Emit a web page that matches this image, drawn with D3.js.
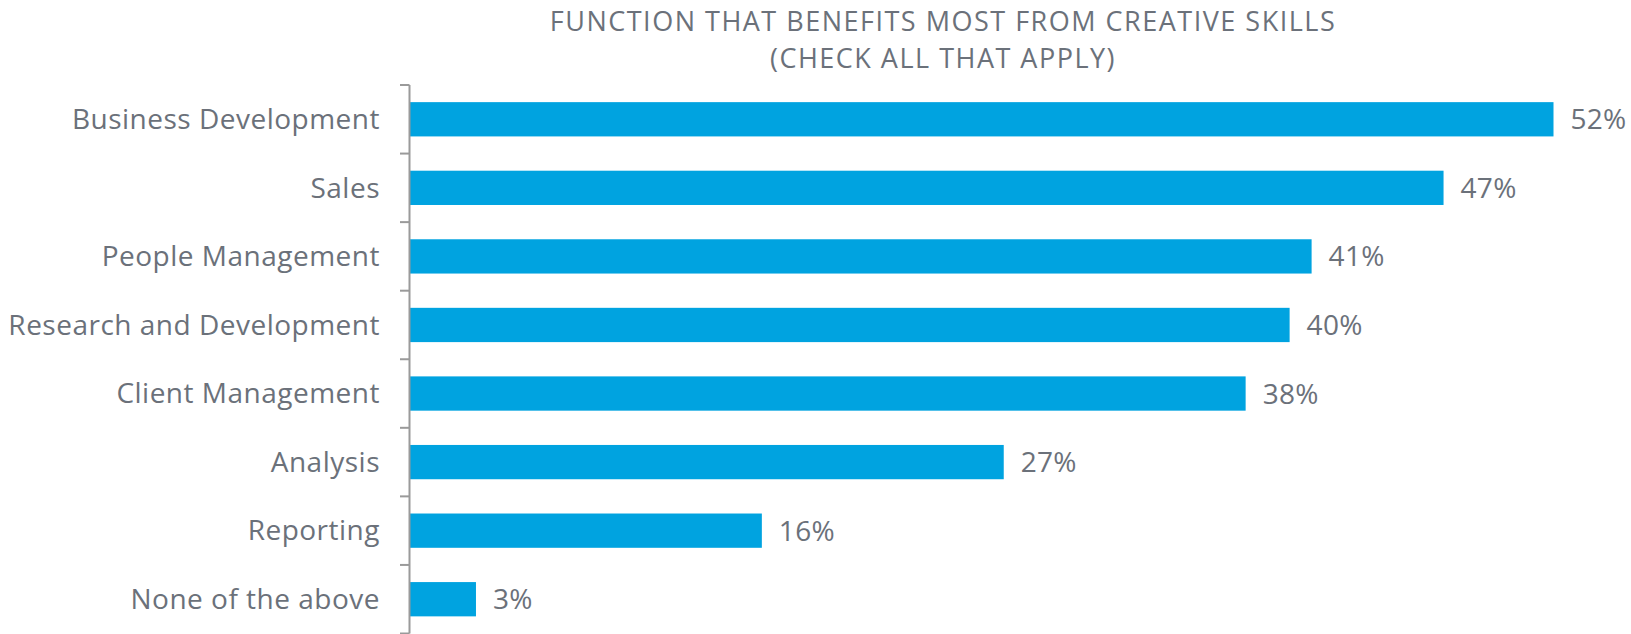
<!DOCTYPE html>
<html>
<head>
<meta charset="utf-8">
<script src="https://cdn.jsdelivr.net/npm/d3@7"></script>
<style>
  html, body { margin: 0; padding: 0; background: #ffffff; }
  svg { display: block; }
  text { font-family: "Open Sans", "Noto Sans", sans-serif; fill: #6b717a; }
</style>
</head>
<body>
<svg id="chart" width="1631" height="634"></svg>
<script>
// Survey results: share of respondents choosing each function
const categories = [
  "Business Development",
  "Sales",
  "People Management",
  "Research and Development",
  "Client Management",
  "Analysis",
  "Reporting",
  "None of the above"
];
const values = [0.52, 0.47, 0.41, 0.40, 0.38, 0.27, 0.16, 0.03];
const titleLines = [
  "FUNCTION THAT BENEFITS MOST FROM CREATIVE SKILLS",
  "(CHECK ALL THAT APPLY)"
];

const svg = d3.select("#chart");
const margin = { top: 85, left: 410 };
const plotHeight = 548.5;

const x = d3.scaleLinear().domain([0, 0.52]).range([0, 1143.5]);
const y = d3.scaleBand()
  .domain(categories)
  .range([0, plotHeight])
  .paddingInner(0.5)
  .paddingOuter(0.25);

// Title (two lines)
svg.append("g")
  .selectAll("text")
  .data(titleLines)
  .join("text")
  .attr("x", 943)
  .attr("y", (d, i) => 31 + i * 37)
  .attr("text-anchor", "middle")
  .style("font-size", "27px")
  .style("letter-spacing", "1.5px")
  .text(d => d);

const g = svg.append("g").attr("transform", `translate(${margin.left},${margin.top})`);

// Bars
g.selectAll("rect.bar")
  .data(values)
  .join("rect")
  .attr("class", "bar")
  .attr("x", 0)
  .attr("y", (d, i) => y(categories[i]))
  .attr("width", d => x(d))
  .attr("height", y.bandwidth())
  .attr("fill", "#00a3e0");

// Value labels
g.selectAll("text.value")
  .data(values)
  .join("text")
  .attr("class", "value")
  .attr("x", d => x(d) + 17)
  .attr("y", (d, i) => y(categories[i]) + y.bandwidth() / 2)
  .attr("dy", "0.36em")
  .style("font-size", "28px")
  .style("letter-spacing", "0.3px")
  .text(d => d3.format(".0%")(d));

// Category axis with ticks at band boundaries
const axisG = g.append("g");
axisG.append("line")
  .attr("x1", -0.5).attr("x2", -0.5)
  .attr("y1", 0).attr("y2", plotHeight)
  .attr("stroke", "#9a9a9a")
  .attr("stroke-width", 2);

const boundaries = d3.range(categories.length + 1).map(i => i * y.step());
axisG.selectAll("line.tick")
  .data(boundaries)
  .join("line")
  .attr("class", "tick")
  .attr("x1", -10).attr("x2", -0.5)
  .attr("y1", d => d).attr("y2", d => d)
  .attr("stroke", "#9a9a9a")
  .attr("stroke-width", 2);

axisG.selectAll("text.cat")
  .data(categories)
  .join("text")
  .attr("class", "cat")
  .attr("x", -30)
  .attr("y", d => y(d) + y.bandwidth() / 2)
  .attr("dy", "0.35em")
  .attr("text-anchor", "end")
  .style("font-size", "28px")
  .style("letter-spacing", "0.5px")
  .text(d => d);
</script>
</body>
</html>
